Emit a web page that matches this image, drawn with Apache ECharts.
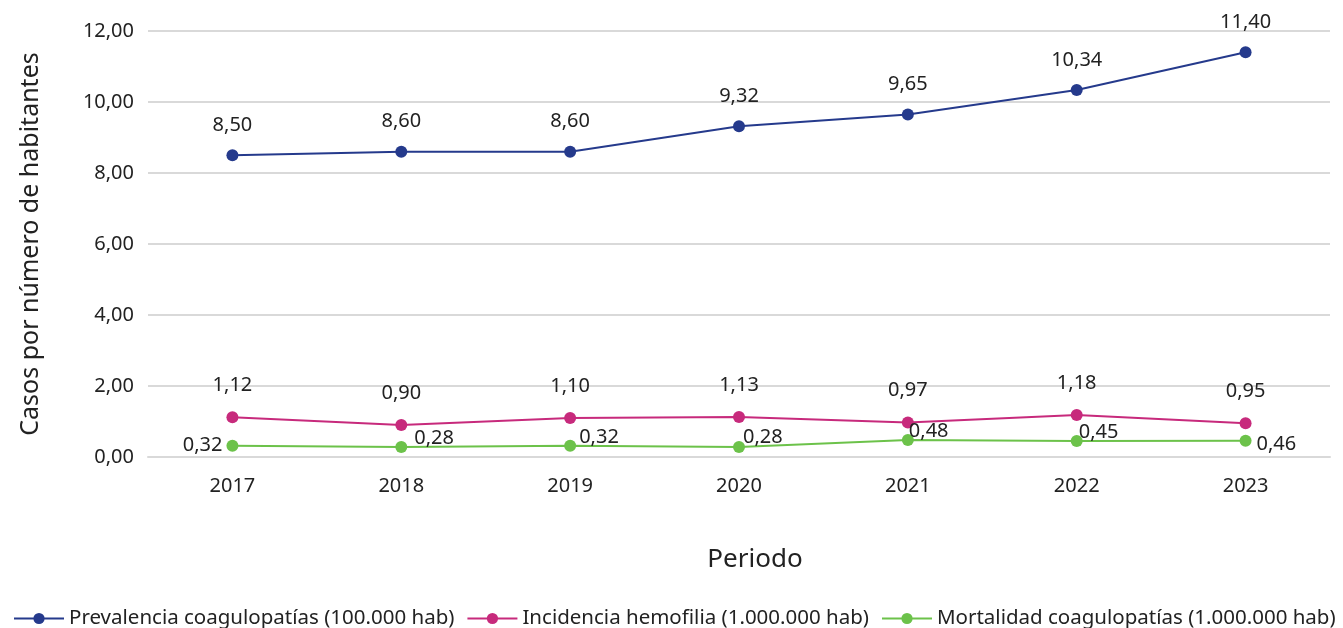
<!DOCTYPE html>
<html lang="es">
<head>
    <meta charset="utf-8">
    <title>Coagulopatías</title>
    <script src="https://cdn.jsdelivr.net/npm/echarts@6/dist/echarts.min.js"></script>
    <style>
        html, body { margin: 0; padding: 0; background: #fff; }
    </style>
</head>
<body>
<div id="main" style="width:1343px;height:628px;"></div>
<script type="text/javascript">
    // datos
    var periodos = ['2017', '2018', '2019', '2020', '2021', '2022', '2023'];
    var prevalencia = [8.50, 8.60, 8.60, 9.32, 9.65, 10.34, 11.40];
    var incidencia = [1.12, 0.90, 1.10, 1.13, 0.97, 1.18, 0.95];
    var mortalidad = [0.32, 0.28, 0.32, 0.28, 0.48, 0.45, 0.46];
    var nombres = ['Prevalencia coagulopatías (100.000 hab)', 'Incidencia hemofilia (1.000.000 hab)', 'Mortalidad coagulopatías (1.000.000 hab)'];

    var fuente = 'Noto Sans';
    var txt = '#222';

    function coma(v) {
        return Number(v).toFixed(2).replace('.', ',');
    }

    // posiciones de etiquetas de la serie verde (como en el original)
    var posVerde = [
        {position: 'left', offset: [0, 0]},
        {position: 'right', offset: [3, -9]},
        {position: 'right', offset: [-1, -8]},
        {position: 'right', offset: [-6, -10]},
        {position: 'right', offset: [-9, -9]},
        {position: 'right', offset: [-8, -9]},
        {position: 'right', offset: [1, 4]}
    ];
    var datosVerde = [];
    for (var i = 0; i < mortalidad.length; i++) {
        datosVerde.push({value: mortalidad[i], label: posVerde[i]});
    }

    var myChart = echarts.init(document.getElementById('main'));
    var option = {
        animation: false,
        textStyle: {fontFamily: fuente, color: txt},
        grid: {left: 148, right: 13, top: 31, bottom: 171, containLabel: false},
        legend: {
            bottom: -6,
            left: 8,
            itemWidth: 50,
            itemHeight: 14,
            itemGap: 12,
            textStyle: {fontSize: 20.5, color: txt, fontFamily: fuente},
            data: nombres
        },
        xAxis: {
            type: 'category',
            data: periodos,
            name: 'Periodo',
            nameLocation: 'middle',
            nameGap: 90,
            nameTextStyle: {fontSize: 26, color: txt, padding: [0, 0, 0, 32]},
            axisLine: {lineStyle: {color: '#d9d9d9', width: 2}},
            axisTick: {show: false},
            axisLabel: {fontSize: 20, color: txt, margin: 19}
        },
        yAxis: {
            type: 'value',
            min: 0,
            max: 12,
            interval: 2,
            name: 'Casos por número de habitantes',
            nameLocation: 'middle',
            nameGap: 105,
            nameTextStyle: {fontSize: 25, color: txt},
            axisLine: {show: false},
            axisTick: {show: false},
            splitLine: {lineStyle: {color: '#d9d9d9', width: 2}},
            axisLabel: {fontSize: 20, color: txt, margin: 14, formatter: coma}
        },
        series: [
            {
                name: nombres[0],
                type: 'line',
                data: prevalencia,
                symbol: 'circle',
                symbolSize: 12,
                color: '#253a8c',
                lineStyle: {width: 2},
                label: {show: true, position: 'top', distance: 14, fontSize: 20, color: txt, formatter: function (p) { return coma(p.value); }}
            },
            {
                name: nombres[1],
                type: 'line',
                data: incidencia,
                symbol: 'circle',
                symbolSize: 12,
                color: '#c72a7c',
                lineStyle: {width: 2},
                label: {show: true, position: 'top', distance: 16, fontSize: 20, color: txt, formatter: function (p) { return coma(p.value); }}
            },
            {
                name: nombres[2],
                type: 'line',
                data: datosVerde,
                symbol: 'circle',
                symbolSize: 12,
                color: '#6cc24a',
                lineStyle: {width: 2},
                label: {show: true, distance: 4, fontSize: 20, color: txt, formatter: function (p) { return coma(p.value); }}
            }
        ]
    };
    myChart.setOption(option);
</script>
</body>
</html>
